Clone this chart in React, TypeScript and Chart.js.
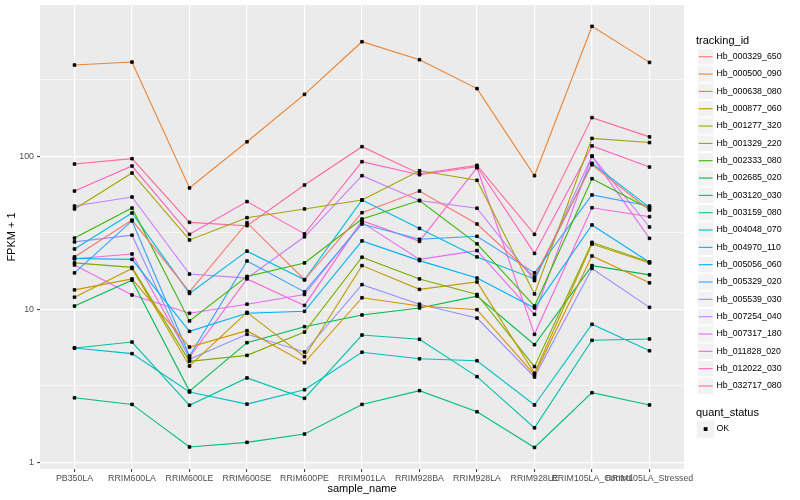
import React, { useEffect, useRef } from "react";
import { Chart, registerables } from "chart.js";

Chart.register(...registerables);

const FONT = "'Liberation Sans', Arial, Helvetica, sans-serif";

const categories = [
  "PB350LA",
  "RRIM600LA",
  "RRIM600LE",
  "RRIM600SE",
  "RRIM600PE",
  "RRIM901LA",
  "RRIM928BA",
  "RRIM928LA",
  "RRIM928LE",
  "RRIM105LA_Control",
  "RRIM105LA_Stressed",
];

const hb_000329_650 = [22.0, 38.3, 13.0, 36.8, 15.6, 42.8, 59.3, 36.1, 16.3, 88.1, 44.6];
const hb_000500_090 = [395, 413, 62.1, 124.5, 254, 561, 428, 277, 74.7, 707, 411];
const hb_000638_080 = [13.4, 15.8, 5.67, 7.25, 4.48, 11.9, 10.5, 9.94, 3.74, 22.3, 14.9];
const hb_000877_060 = [12.0, 18.5, 4.26, 9.55, 4.9, 19.3, 13.5, 15.1, 3.82, 26.7, 20.1];
const hb_001277_320 = [45.3, 77.8, 28.4, 39.7, 45.3, 51.8, 80.5, 69.7, 12.6, 131, 123];
const hb_001329_220 = [20.1, 18.8, 4.57, 5.0, 7.1, 21.9, 15.8, 12.5, 4.22, 27.4, 20.4];
const hb_002333_080 = [29.2, 45.9, 8.39, 16.4, 20.1, 38.9, 51.4, 26.8, 10.5, 71.4, 45.4];
const hb_002685_020 = [10.5, 15.5, 2.92, 6.05, 7.7, 9.18, 10.2, 12.2, 5.87, 19.3, 16.8];
const hb_003120_030 = [2.64, 2.39, 1.26, 1.35, 1.53, 2.39, 2.94, 2.14, 1.25, 2.85, 2.37];
const hb_003159_080 = [5.59, 6.11, 2.36, 3.56, 2.62, 6.79, 6.37, 3.63, 1.68, 6.27, 6.4];
const hb_004048_070 = [5.59, 5.13, 2.88, 2.4, 2.98, 5.24, 4.75, 4.61, 2.37, 7.98, 5.36];
const hb_004970_110 = [24.8, 42.6, 12.7, 24.0, 15.6, 51.8, 33.8, 22.0, 15.8, 90.0, 46.4];
const hb_005056_060 = [21.5, 21.2, 7.18, 9.42, 9.7, 28.0, 20.8, 16.0, 10.2, 35.6, 20.3];
const hb_005329_020 = [17.3, 37.8, 4.95, 20.7, 13.0, 36.1, 28.7, 30.0, 17.3, 55.9, 47.3];
const hb_005539_030 = [27.6, 30.5, 4.71, 6.87, 5.26, 14.5, 10.8, 8.77, 3.61, 18.5, 10.3];
const hb_007254_040 = [47.3, 54.2, 17.0, 16.0, 29.8, 74.7, 51.4, 45.8, 15.4, 100.5, 34.5];
const hb_007317_180 = [19.5, 12.4, 9.42, 10.8, 12.5, 37.0, 21.2, 24.2, 9.27, 100.0, 29.1];
const hb_011828_020 = [21.4, 23.0, 4.86, 15.8, 10.6, 37.9, 27.8, 84.2, 6.86, 46.1, 40.3];
const hb_012022_030 = [59.3, 86.4, 30.9, 50.6, 31.1, 92.2, 75.8, 85.5, 23.2, 117, 85.1];
const hb_032717_080 = [89, 96.5, 37.0, 35.2, 64.9, 115.6, 77.0, 87.3, 30.9, 179, 134];

const seriesNames = [
  "Hb_000329_650",
  "Hb_000500_090",
  "Hb_000638_080",
  "Hb_000877_060",
  "Hb_001277_320",
  "Hb_001329_220",
  "Hb_002333_080",
  "Hb_002685_020",
  "Hb_003120_030",
  "Hb_003159_080",
  "Hb_004048_070",
  "Hb_004970_110",
  "Hb_005056_060",
  "Hb_005329_020",
  "Hb_005539_030",
  "Hb_007254_040",
  "Hb_007317_180",
  "Hb_011828_020",
  "Hb_012022_030",
  "Hb_032717_080",
];

const seriesValues = [
  hb_000329_650,
  hb_000500_090,
  hb_000638_080,
  hb_000877_060,
  hb_001277_320,
  hb_001329_220,
  hb_002333_080,
  hb_002685_020,
  hb_003120_030,
  hb_003159_080,
  hb_004048_070,
  hb_004970_110,
  hb_005056_060,
  hb_005329_020,
  hb_005539_030,
  hb_007254_040,
  hb_007317_180,
  hb_011828_020,
  hb_012022_030,
  hb_032717_080,
];

const yLabeledTicks = [1, 10, 100];
const yMinorTicks = [3.1623, 31.623, 316.23];
const quantStatus = ["OK"];

function hcl(h: number, c: number, l: number): string {
  const hr = (h * Math.PI) / 180;
  const U = c * Math.cos(hr);
  const V = c * Math.sin(hr);
  const Xn = 95.047, Yn = 100.0, Zn = 108.883;
  const Y = l > 7.999592 ? Yn * Math.pow((l + 16) / 116, 3) : (Yn * l) / 903.3;
  const t = Xn + 15 * Yn + 3 * Zn;
  const un = (4 * Xn) / t;
  const vn = (9 * Yn) / t;
  const u = U / (13 * l) + un;
  const v = V / (13 * l) + vn;
  const X = (9.0 * Y * u) / (4 * v);
  const Z = -X / 3 - 5 * Y + (3 * Y) / v;
  const gam = (x: number) => (x <= 0.0031308 ? 12.92 * x : 1.055 * Math.pow(x, 1 / 2.4) - 0.055);
  const clip = (x: number) => Math.max(0, Math.min(1, x));
  const r = clip(gam((3.240479 * X - 1.53715 * Y - 0.498535 * Z) / 100));
  const g = clip(gam((-0.969256 * X + 1.875992 * Y + 0.041556 * Z) / 100));
  const b = clip(gam((0.055648 * X - 0.204043 * Y + 1.057311 * Z) / 100));
  const hx = (x: number) => Math.round(x * 255).toString(16).padStart(2, "0");
  return "#" + hx(r) + hx(g) + hx(b);
}

export default function App() {
  const ref = useRef<HTMLCanvasElement>(null);

  useEffect(() => {
    document.body.style.margin = "0";
    const canvas = ref.current;
    if (!canvas) return;
    const n = seriesNames.length;
    const colors = seriesNames.map((_, i) => hcl(15 + (360 * i) / n, 100, 65));

    const lineSets = seriesValues.map((vals, i) => ({
      type: "line" as const,
      label: seriesNames[i],
      data: vals.map((v, j) => ({ x: j, y: v })),
      borderColor: colors[i],
      backgroundColor: colors[i],
      borderWidth: 1.1,
      pointRadius: 0,
      fill: false,
      tension: 0,
      order: 2,
    }));
    const pointSets = seriesValues.map((vals, i) => ({
      type: "line" as const,
      label: seriesNames[i] + " " + quantStatus[0],
      data: vals.map((v, j) => ({ x: j, y: v })),
      showLine: false,
      pointStyle: "rect" as const,
      pointRadius: 1.9,
      pointBackgroundColor: "#000000",
      pointBorderColor: "#000000",
      pointBorderWidth: 0.8,
      order: 1,
    }));

    const yMin = Math.pow(10, -0.0438);
    const yMax = Math.pow(10, 2.989);
    const isMajor = (v: number) => yLabeledTicks.some((t) => Math.abs(t - v) < 1e-6);

    const decor = {
      id: "decor",
      beforeDraw(chart: any) {
        const { ctx, chartArea } = chart;
        ctx.save();
        ctx.fillStyle = "#FFFFFF";
        ctx.fillRect(0, 0, chart.width, chart.height);
        ctx.fillStyle = "#EBEBEB";
        ctx.fillRect(chartArea.left, chartArea.top, chartArea.right - chartArea.left, chartArea.bottom - chartArea.top);
        ctx.restore();
      },
      afterDraw(chart: any) {
        const { ctx, chartArea } = chart;
        ctx.save();
        ctx.fillStyle = "#000000";
        ctx.textBaseline = "middle";
        ctx.font = `11px ${FONT}`;
        ctx.textAlign = "center";
        ctx.fillText("sample_name", (chartArea.left + chartArea.right) / 2, 489);
        ctx.save();
        ctx.translate(12, (chartArea.top + chartArea.bottom) / 2);
        ctx.rotate(-Math.PI / 2);
        ctx.fillText("FPKM + 1", 0, 0);
        ctx.restore();

        // legend
        ctx.textAlign = "left";
        ctx.fillText("tracking_id", 696, 40.5);
        const key = 17.28;
        const step = 17.33;
        const x0 = 697;
        const y0 = 48.1;
        ctx.font = `8.8px ${FONT}`;
        seriesNames.forEach((name, i) => {
          const y = y0 + i * step;
          ctx.fillStyle = "#F2F2F2";
          ctx.fillRect(x0, y, key, key);
          ctx.strokeStyle = "#FFFFFF";
          ctx.lineWidth = 1;
          ctx.strokeRect(x0 + 0.5, y + 0.5, key - 1, key - 1);
          ctx.strokeStyle = colors[i];
          ctx.lineWidth = 1.1;
          ctx.beginPath();
          ctx.moveTo(x0 + 1.7, y + key / 2);
          ctx.lineTo(x0 + key - 1.7, y + key / 2);
          ctx.stroke();
          ctx.fillStyle = "#000000";
          ctx.fillText(name, 716.5, y + key / 2);
        });
        ctx.font = `11px ${FONT}`;
        ctx.fillText("quant_status", 696, 412.7);
        const qy = 420.4;
        ctx.fillStyle = "#F2F2F2";
        ctx.fillRect(x0, qy, key, key);
        ctx.fillStyle = "#000000";
        ctx.fillRect(x0 + key / 2 - 1.9, qy + key / 2 - 1.9, 3.8, 3.8);
        ctx.font = `8.8px ${FONT}`;
        ctx.fillText(quantStatus[0], 716.5, qy + key / 2);
        ctx.restore();
      },
    };

    const chart = new Chart(canvas, {
      type: "line",
      data: { datasets: [...lineSets, ...pointSets] as any },
      options: {
        animation: false,
        responsive: false,
        devicePixelRatio: 1,
        layout: { padding: { left: 0, right: 116, top: 5, bottom: 0 } },
        plugins: { legend: { display: false }, tooltip: { enabled: false } },
        scales: {
          x: {
            type: "linear",
            min: -0.6,
            max: 10.6,
            afterBuildTicks: (s: any) => {
              s.ticks = categories.map((_, i) => ({ value: i }));
            },
            afterFit: (s: any) => {
              s.height = 31;
              s.paddingLeft = 0;
              s.paddingRight = 0;
            },
            ticks: {
              autoSkip: false,
              maxRotation: 0,
              minRotation: 0,
              padding: 1,
              color: "#4D4D4D",
              font: { family: FONT, size: 8.8 },
              callback: (v: any) => categories[Math.round(Number(v))] ?? "",
            },
            grid: { color: "#FFFFFF", lineWidth: 1.2, tickLength: 3, tickColor: "#333333", tickWidth: 1 },
            border: { display: false },
          },
          y: {
            type: "logarithmic",
            min: yMin,
            max: yMax,
            afterBuildTicks: (s: any) => {
              const vals = [...yLabeledTicks, ...yMinorTicks].sort((a, b) => a - b);
              s.ticks = vals.map((v) => ({ value: v, major: isMajor(v) }));
            },
            afterFit: (s: any) => {
              s.width = 40;
              s.paddingTop = 0;
              s.paddingBottom = 0;
            },
            ticks: {
              autoSkip: false,
              padding: 3,
              color: "#4D4D4D",
              font: { family: FONT, size: 8.8 },
              callback: (v: any) => (isMajor(Number(v)) ? String(v) : ""),
            },
            grid: {
              color: "#FFFFFF",
              lineWidth: (c: any) => (c.tick && isMajor(c.tick.value) ? 1.2 : 0.6),
              tickLength: 3,
              tickWidth: 1,
              tickColor: (c: any) => (c.tick && isMajor(c.tick.value) ? "#333333" : "rgba(0,0,0,0)"),
            },
            border: { display: false },
          },
        },
      } as any,
      plugins: [decor],
    });
    return () => chart.destroy();
  }, []);

  return (
    <div style={{ width: 800, height: 500, position: "relative" }}>
      <canvas ref={ref} width={800} height={500} style={{ width: 800, height: 500, display: "block" }} />
    </div>
  );
}
